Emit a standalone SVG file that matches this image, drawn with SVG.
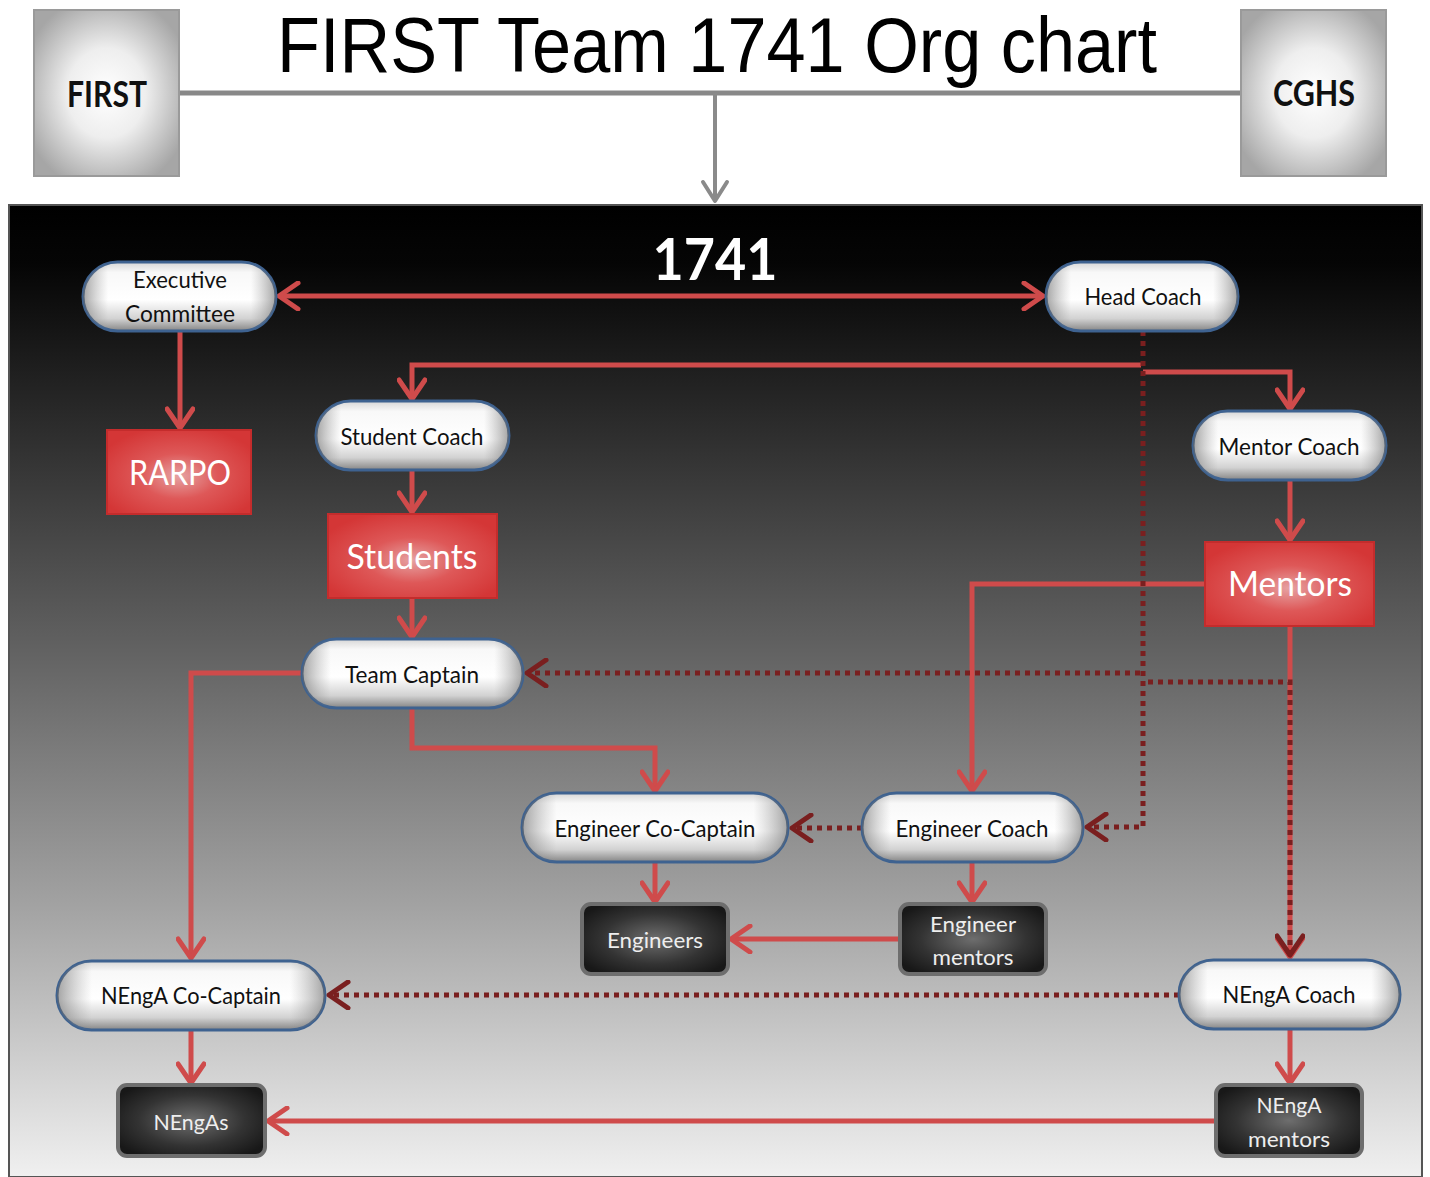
<svg xmlns="http://www.w3.org/2000/svg" width="1430" height="1177" viewBox="0 0 1430 1177">
<defs>
<linearGradient id="panelG" x1="0" y1="0" x2="0" y2="1">
<stop offset="0" stop-color="#000"/>
<stop offset="0.06" stop-color="#050505"/>
<stop offset="0.45" stop-color="#606060"/>
<stop offset="0.72" stop-color="#a2a2a2"/>
<stop offset="1" stop-color="#f0f0f0"/>
</linearGradient>
<linearGradient id="pillV" x1="0" y1="0" x2="0" y2="1">
<stop offset="0" stop-color="#d6d6d6"/>
<stop offset="0.15" stop-color="#f8f8f8"/>
<stop offset="0.55" stop-color="#ffffff"/>
<stop offset="0.82" stop-color="#d2d2d2"/>
<stop offset="1" stop-color="#858585"/>
</linearGradient>
<linearGradient id="pillH" x1="0" y1="0" x2="1" y2="0">
<stop offset="0" stop-color="#666" stop-opacity="0.6"/>
<stop offset="0.13" stop-color="#909090" stop-opacity="0"/>
<stop offset="0.87" stop-color="#909090" stop-opacity="0"/>
<stop offset="1" stop-color="#666" stop-opacity="0.6"/>
</linearGradient>
<radialGradient id="redG" cx="0.5" cy="0.55" r="0.6">
<stop offset="0" stop-color="#e6a2a2"/>
<stop offset="0.45" stop-color="#de5858"/>
<stop offset="1" stop-color="#d43636"/>
</radialGradient>
<radialGradient id="darkG" cx="0.5" cy="0.5" r="0.6">
<stop offset="0" stop-color="#6e6e6e"/>
<stop offset="0.6" stop-color="#333"/>
<stop offset="1" stop-color="#181818"/>
</radialGradient>
<radialGradient id="grayG" cx="0.5" cy="0.5" r="0.6">
<stop offset="0" stop-color="#ffffff"/>
<stop offset="0.45" stop-color="#eeeeee"/>
<stop offset="1" stop-color="#a6a6a6"/>
</radialGradient>
<marker id="arrR" markerUnits="userSpaceOnUse" viewBox="0 0 26 30" markerWidth="26" markerHeight="30" refX="22" refY="15" orient="auto-start-reverse">
<path d="M3,2 L22,15 L3,28" fill="none" stroke="#cf4b4b" stroke-width="5" stroke-linecap="round" stroke-linejoin="round"/>
</marker>
<marker id="arrD" markerUnits="userSpaceOnUse" viewBox="0 0 26 30" markerWidth="26" markerHeight="30" refX="22" refY="15" orient="auto">
<path d="M3,2 L22,15 L3,28" fill="none" stroke="#7a1f1f" stroke-width="5" stroke-linecap="round" stroke-linejoin="round"/>
</marker>
<marker id="arrG" markerUnits="userSpaceOnUse" viewBox="0 0 26 30" markerWidth="26" markerHeight="30" refX="22" refY="15" orient="auto">
<path d="M3,3 L22,15 L3,27" fill="none" stroke="#8a8a8a" stroke-width="4" stroke-linecap="round" stroke-linejoin="round"/>
</marker>
</defs>
<style>
.t{font-family:Lato,"Liberation Sans",sans-serif;text-anchor:middle}
.pl{font-size:23px;fill:#111}
.rd{font-size:35px;fill:#fff}
.dk{font-size:22px;fill:#eee}
.pill{fill:url(#pillV);stroke:#3e6290;stroke-width:3}
.pillo{fill:url(#pillH)}
.red{fill:url(#redG);stroke:#c42c2c;stroke-width:2}
.dark{fill:url(#darkG);stroke:#6e6e6e;stroke-width:4}
.gbox{fill:url(#grayG);stroke:#9a9a9a;stroke-width:2}
.sr{fill:none;stroke:#cf4b4b;stroke-width:5}
.sd{fill:none;stroke:#7a1f1f;stroke-width:5;stroke-dasharray:5 5}
</style>
<rect x="0" y="0" width="1430" height="1177" fill="#fff"/>
<text x="717" y="72" font-family="'Liberation Sans',Lato,sans-serif" text-anchor="middle" font-size="77" fill="#000" textLength="880" lengthAdjust="spacingAndGlyphs">FIRST Team 1741 Org chart</text>
<g id="top-connectors">
<line x1="179" y1="93" x2="1241" y2="93" stroke="#888" stroke-width="5"/>
<line x1="715" y1="93" x2="715" y2="201" stroke="#8a8a8a" stroke-width="4" marker-end="url(#arrG)"/>
</g>
<g id="first">
<rect class="gbox" x="34" y="10" width="145" height="166"/>
<text class="t" x="107" y="107" font-size="36" font-weight="bold" fill="#111" textLength="80" lengthAdjust="spacingAndGlyphs">FIRST</text>
</g>
<g id="cghs">
<rect class="gbox" x="1241" y="10" width="145" height="166"/>
<text class="t" x="1314" y="106" font-size="36" font-weight="bold" fill="#111" textLength="82" lengthAdjust="spacingAndGlyphs">CGHS</text>
</g>
<g id="panel">
<rect x="9" y="205" width="1413" height="972" fill="url(#panelG)" stroke="#555" stroke-width="2"/>
<text class="t" x="715" y="280" font-size="58" font-weight="bold" fill="#fff" textLength="125" lengthAdjust="spacingAndGlyphs">1741</text>
</g>
<g id="connectors">
<line class="sr" x1="279" y1="296" x2="1043" y2="296" marker-start="url(#arrR)" marker-end="url(#arrR)"/>
<path class="sr" d="M180,331 V428" marker-end="url(#arrR)"/>
<path class="sr" d="M1141,365 H412 V399" marker-end="url(#arrR)"/>
<path class="sr" d="M1143,372 H1290 V409" marker-end="url(#arrR)"/>
<path class="sr" d="M412,470 V512" marker-end="url(#arrR)"/>
<path class="sr" d="M412,598 V637" marker-end="url(#arrR)"/>
<path class="sr" d="M1290,480 V540" marker-end="url(#arrR)"/>
<path class="sr" d="M1205,584 H972 V791" marker-end="url(#arrR)"/>
<path class="sr" d="M1290,626 V957" marker-end="url(#arrR)"/>
<path class="sr" d="M412,708 V748 H655 V791" marker-end="url(#arrR)"/>
<path class="sr" d="M302,673 H191 V958" marker-end="url(#arrR)"/>
<path class="sr" d="M655,862 V902" marker-end="url(#arrR)"/>
<path class="sr" d="M972,862 V902" marker-end="url(#arrR)"/>
<path class="sr" d="M900,939 H731" marker-end="url(#arrR)"/>
<path class="sr" d="M191,1030 V1083" marker-end="url(#arrR)"/>
<path class="sr" d="M1290,1029 V1083" marker-end="url(#arrR)"/>
<path class="sr" d="M1216,1121 H268" marker-end="url(#arrR)"/>
<path class="sd" d="M1143,331 V827 H1087" marker-end="url(#arrD)"/>
<path class="sd" d="M1140,673 H527" marker-end="url(#arrD)"/>
<path class="sd" d="M1148,682 H1290 V955" marker-end="url(#arrD)"/>
<path class="sd" d="M862,828 H792" marker-end="url(#arrD)"/>
<path class="sd" d="M1179,995 H329" marker-end="url(#arrD)"/>
</g>
<g id="executive-committee">
<rect class="pill" x="83" y="262" width="193" height="69" rx="34.5"/>
<rect class="pillo" x="83" y="262" width="193" height="69" rx="34.5"/>
<text class="t pl" x="180" y="288" textLength="94" lengthAdjust="spacingAndGlyphs">Executive</text>
<text class="t pl" x="180" y="322" textLength="110" lengthAdjust="spacingAndGlyphs">Committee</text>
</g>
<g id="head-coach">
<rect class="pill" x="1046" y="262" width="192" height="69" rx="34.5"/>
<rect class="pillo" x="1046" y="262" width="192" height="69" rx="34.5"/>
<text class="t pl" x="1143" y="305" textLength="117" lengthAdjust="spacingAndGlyphs">Head Coach</text>
</g>
<g id="student-coach">
<rect class="pill" x="316" y="401" width="193" height="69" rx="34.5"/>
<rect class="pillo" x="316" y="401" width="193" height="69" rx="34.5"/>
<text class="t pl" x="412" y="445" textLength="143" lengthAdjust="spacingAndGlyphs">Student Coach</text>
</g>
<g id="mentor-coach">
<rect class="pill" x="1193" y="411" width="193" height="69" rx="34.5"/>
<rect class="pillo" x="1193" y="411" width="193" height="69" rx="34.5"/>
<text class="t pl" x="1289" y="455" textLength="141" lengthAdjust="spacingAndGlyphs">Mentor Coach</text>
</g>
<g id="rarpo">
<rect class="red" x="107" y="430" width="144" height="84"/>
<text class="t rd" x="180" y="485" textLength="102" lengthAdjust="spacingAndGlyphs">RARPO</text>
</g>
<g id="students">
<rect class="red" x="328" y="514" width="169" height="84"/>
<text class="t rd" x="412" y="569" textLength="131" lengthAdjust="spacingAndGlyphs">Students</text>
</g>
<g id="mentors">
<rect class="red" x="1205" y="542" width="169" height="84"/>
<text class="t rd" x="1290" y="596" textLength="124" lengthAdjust="spacingAndGlyphs">Mentors</text>
</g>
<g id="team-captain">
<rect class="pill" x="302" y="639" width="221" height="69" rx="34.5"/>
<rect class="pillo" x="302" y="639" width="221" height="69" rx="34.5"/>
<text class="t pl" x="412" y="683" textLength="134" lengthAdjust="spacingAndGlyphs">Team Captain</text>
</g>
<g id="engineer-co-captain">
<rect class="pill" x="522" y="793" width="266" height="69" rx="34.5"/>
<rect class="pillo" x="522" y="793" width="266" height="69" rx="34.5"/>
<text class="t pl" x="655" y="837" textLength="201" lengthAdjust="spacingAndGlyphs">Engineer Co-Captain</text>
</g>
<g id="engineer-coach">
<rect class="pill" x="862" y="793" width="221" height="69" rx="34.5"/>
<rect class="pillo" x="862" y="793" width="221" height="69" rx="34.5"/>
<text class="t pl" x="972" y="837" textLength="153" lengthAdjust="spacingAndGlyphs">Engineer Coach</text>
</g>
<g id="engineers">
<rect class="dark" x="582" y="904" width="146" height="70" rx="9"/>
<text class="t dk" x="655" y="948" textLength="96" lengthAdjust="spacingAndGlyphs">Engineers</text>
</g>
<g id="engineer-mentors">
<rect class="dark" x="900" y="904" width="146" height="70" rx="9"/>
<text class="t dk" x="973" y="932" textLength="86" lengthAdjust="spacingAndGlyphs">Engineer</text>
<text class="t dk" x="973" y="965" textLength="81" lengthAdjust="spacingAndGlyphs">mentors</text>
</g>
<g id="nenga-co-captain">
<rect class="pill" x="57" y="961" width="268" height="69" rx="34.5"/>
<rect class="pillo" x="57" y="961" width="268" height="69" rx="34.5"/>
<text class="t pl" x="191" y="1004" textLength="180" lengthAdjust="spacingAndGlyphs">NEngA Co-Captain</text>
</g>
<g id="nenga-coach">
<rect class="pill" x="1179" y="960" width="221" height="69" rx="34.5"/>
<rect class="pillo" x="1179" y="960" width="221" height="69" rx="34.5"/>
<text class="t pl" x="1289" y="1003" textLength="133" lengthAdjust="spacingAndGlyphs">NEngA Coach</text>
</g>
<g id="nengas">
<rect class="dark" x="118" y="1085" width="147" height="71" rx="9"/>
<text class="t dk" x="191" y="1130" textLength="75" lengthAdjust="spacingAndGlyphs">NEngAs</text>
</g>
<g id="nenga-mentors">
<rect class="dark" x="1216" y="1085" width="146" height="71" rx="9"/>
<text class="t dk" x="1289" y="1113" textLength="65" lengthAdjust="spacingAndGlyphs">NEngA</text>
<text class="t dk" x="1289" y="1147" textLength="82" lengthAdjust="spacingAndGlyphs">mentors</text>
</g>
</svg>
